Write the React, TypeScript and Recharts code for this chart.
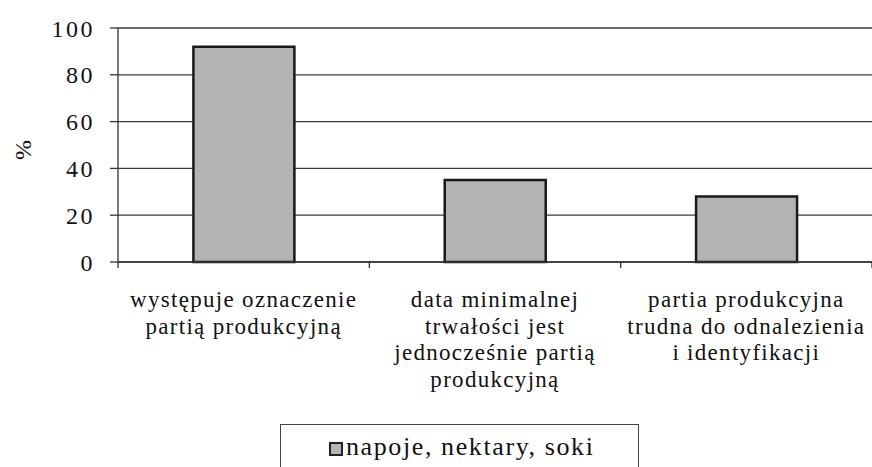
import { Bar, BarChart, CartesianGrid, Legend, XAxis, YAxis } from "recharts";

const categories = [
  "występuje oznaczenie\npartią produkcyjną",
  "data minimalnej\ntrwałości jest\njednocześnie partią\nprodukcyjną",
  "partia produkcyjna\ntrudna do odnalezienia\ni identyfikacji",
];
const values = [92, 35, 28];
const yTicks = [0, 20, 40, 60, 80, 100];
const seriesName = "napoje, nektary, soki";

const data = categories.map((name, i) => ({ name, value: values[i] }));

const serif = "'Liberation Serif', 'Times New Roman', 'DejaVu Serif', serif";
const axisColor = "#333";

function CategoryTick(props: any) {
  const { x, y, payload, width, visibleTicksCount, index } = props;
  const band = width / visibleTicksCount;
  const lines = String(payload.value).split("\n");
  return (
    <g>
      {index === 0 && (
        <line x1={x - band / 2} y1={y} x2={x - band / 2} y2={y + 6} stroke={axisColor} strokeWidth={1.3} />
      )}
      <line x1={x + band / 2} y1={y} x2={x + band / 2} y2={y + 6} stroke={axisColor} strokeWidth={1.3} />
      <text
        x={x}
        y={y + 45}
        textAnchor="middle"
        fontFamily={serif}
        fontSize={23}
        letterSpacing={1.3}
        fill="#111"
      >
        {lines.map((l, i) => (
          <tspan key={i} x={x} dy={i === 0 ? 0 : 26.7}>
            {l}
          </tspan>
        ))}
      </text>
    </g>
  );
}

function LegendBox(props: any) {
  const item = props.payload?.[0];
  return (
    <div
      style={{
        position: "relative",
        width: 359,
        height: 50,
        border: "1.5px solid #444",
        boxSizing: "border-box",
        background: "#fff",
      }}
    >
      <div
        style={{
          position: "absolute",
          left: 48,
          top: 17,
          width: 14,
          height: 14,
          background: "#b3b3b3",
          border: "2px solid #222",
          boxSizing: "border-box",
        }}
      />
      <span
        style={{
          position: "absolute",
          left: 65,
          top: 7,
          fontFamily: serif,
          fontSize: 26,
          letterSpacing: 1.6,
          color: "#111",
          whiteSpace: "nowrap",
        }}
      >
        {item ? item.value : seriesName}
      </span>
    </div>
  );
}

export default function App() {
  return (
    <div style={{ position: "absolute", left: 0, top: 0, width: 872, height: 467, background: "#fff", overflow: "hidden" }}>
      <BarChart
        width={872}
        height={467}
        data={data}
        margin={{ top: 28, right: 0, left: 0, bottom: 0 }}
        barCategoryGap="30%"
      >
        <CartesianGrid vertical={false} stroke="#3a3a3a" strokeWidth={1.3} />
        <XAxis
          dataKey="name"
          height={205}
          interval={0}
          tickSize={0}
          tickMargin={0}
          tickLine={false}
          axisLine={{ stroke: axisColor, strokeWidth: 1.3 }}
          tick={<CategoryTick />}
        />
        <YAxis
          width={118}
          domain={[0, 100]}
          ticks={yTicks}
          interval={0}
          tickSize={8}
          tickMargin={15}
          axisLine={{ stroke: axisColor, strokeWidth: 1.3 }}
          tickLine={{ stroke: axisColor, strokeWidth: 1.3 }}
          tick={{ fontFamily: serif, fontSize: 24, letterSpacing: 2.5, fill: "#111" }}
          label={{
            content: () => (
              <text
                transform="translate(31,150) rotate(-90)"
                textAnchor="middle"
                fontFamily={serif}
                fontSize={24}
                fill="#111"
              >
                %
              </text>
            ),
          }}
        />
        <Legend
          layout="horizontal"
          verticalAlign="middle"
          align="center"
          wrapperStyle={{ top: 424, left: 280, width: 360 }}
          content={<LegendBox />}
        />
        <Bar
          dataKey="value"
          name={seriesName}
          fill="#b3b3b3"
          stroke="#1a1a1a"
          strokeWidth={2.5}
          isAnimationActive={false}
        />
      </BarChart>
    </div>
  );
}
